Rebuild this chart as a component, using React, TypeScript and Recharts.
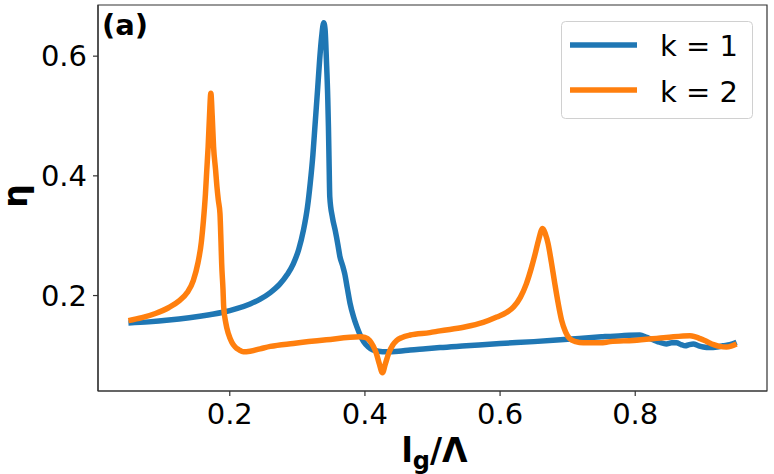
import React from "react";
import {
  LineChart,
  Line,
  XAxis,
  YAxis,
  Legend,
  Label,
  ReferenceArea,
} from "recharts";

// k = 1 curve
const K1_X = [
  0.05, 0.08, 0.11, 0.14, 0.17, 0.19, 0.21, 0.23, 0.245, 0.26, 0.274, 0.285,
  0.294, 0.302, 0.309, 0.315, 0.319, 0.323, 0.326, 0.33, 0.333, 0.336, 0.339,
  0.341, 0.343, 0.345, 0.346, 0.347, 0.348, 0.352, 0.356, 0.36, 0.363, 0.367,
  0.37, 0.374, 0.378, 0.383, 0.388, 0.393, 0.398, 0.405, 0.412, 0.42, 0.432,
  0.45, 0.467, 0.49, 0.511, 0.55, 0.6, 0.65, 0.7, 0.75, 0.78, 0.807, 0.817,
  0.827, 0.836, 0.846, 0.854, 0.861, 0.868, 0.874, 0.88, 0.886, 0.894, 0.901,
  0.91, 0.921, 0.93, 0.94, 0.95,
];
const K1_Y = [
  0.154, 0.156, 0.159, 0.163, 0.168, 0.172, 0.178, 0.186, 0.194, 0.205, 0.219,
  0.235, 0.253, 0.277, 0.309, 0.348, 0.387, 0.435, 0.482, 0.545, 0.594, 0.633,
  0.656, 0.645, 0.594, 0.53, 0.482, 0.42, 0.365, 0.33, 0.309, 0.285, 0.265,
  0.25, 0.237, 0.212, 0.187, 0.165, 0.148, 0.134, 0.123, 0.114, 0.109, 0.107,
  0.106, 0.107, 0.109, 0.111, 0.113, 0.116, 0.12, 0.123, 0.127, 0.131, 0.133,
  0.134, 0.13, 0.126, 0.122, 0.119, 0.121, 0.121, 0.118, 0.116, 0.118, 0.119,
  0.116, 0.114, 0.113, 0.114, 0.116, 0.118, 0.122,
];

// k = 2 curve
const K2_X = [
  0.05, 0.07, 0.09, 0.11, 0.125, 0.137, 0.146, 0.153, 0.158, 0.161, 0.164,
  0.166, 0.168, 0.17, 0.172, 0.174, 0.176, 0.179, 0.181, 0.183, 0.1855, 0.187,
  0.188, 0.19, 0.191, 0.194, 0.198, 0.203, 0.208, 0.214, 0.22, 0.23, 0.245,
  0.26, 0.294, 0.343, 0.393, 0.4, 0.407, 0.412, 0.417, 0.421, 0.426, 0.43,
  0.435, 0.441, 0.447, 0.455, 0.467, 0.496, 0.511, 0.546, 0.575, 0.595, 0.61,
  0.62, 0.63, 0.639, 0.646, 0.652, 0.657, 0.663, 0.667, 0.671, 0.676, 0.681,
  0.686, 0.691, 0.697, 0.703, 0.712, 0.723, 0.748, 0.763, 0.797, 0.846, 0.881,
  0.889, 0.896, 0.906, 0.916, 0.925, 0.935, 0.943, 0.95,
];
const K2_Y = [
  0.158, 0.163, 0.17, 0.18, 0.191, 0.205, 0.225, 0.255, 0.29, 0.325, 0.37,
  0.41, 0.449, 0.5, 0.538, 0.5, 0.449, 0.41, 0.382, 0.36, 0.337, 0.29, 0.254,
  0.21, 0.181, 0.155, 0.136, 0.122, 0.114, 0.109, 0.106, 0.107, 0.111, 0.115,
  0.12, 0.126, 0.131, 0.13, 0.125, 0.116, 0.103, 0.087, 0.071, 0.085, 0.103,
  0.117, 0.125, 0.13, 0.134, 0.138, 0.141, 0.147, 0.155, 0.164, 0.172, 0.181,
  0.197, 0.22, 0.245, 0.27, 0.293, 0.312, 0.303, 0.287, 0.255, 0.22, 0.187,
  0.159, 0.139, 0.128, 0.123, 0.121, 0.121, 0.123, 0.125, 0.13, 0.133, 0.131,
  0.128, 0.123, 0.118, 0.115, 0.114, 0.116, 0.119,
];

const SERIES_NAMES = ["k = 1", "k = 2"];
const SERIES_COLORS = ["#1f77b4", "#ff7f0e"];
const X_TICKS = [0.2, 0.4, 0.6, 0.8];
const Y_TICKS = [0.2, 0.4, 0.6];
const X_DOMAIN = [0.005, 0.995];
const Y_DOMAIN = [0.0405, 0.6855];

const k1Data = K1_X.map((x, i) => ({ x, y: K1_Y[i] }));
const k2Data = K2_X.map((x, i) => ({ x, y: K2_Y[i] }));

const FONT = "DejaVu Sans";
const AXIS_COLOR = "#333";

function XTitle({ viewBox }: any) {
  const { x, y, width } = viewBox;
  return (
    <text
      x={x + width / 2 + 2}
      y={y + 71}
      textAnchor="middle"
      fontFamily={FONT}
      fontWeight="bold"
      fontSize={33}
      fill="#000"
    >
      l
      <tspan fontSize={24} dy={7}>
        g
      </tspan>
      <tspan dy={-7}>/Λ</tspan>
    </text>
  );
}

function YTitle({ viewBox }: any) {
  const { y, height } = viewBox;
  const cx = 27;
  const cy = y + height / 2 - 2;
  return (
    <text
      x={cx}
      y={cy}
      transform={`rotate(-90, ${cx}, ${cy})`}
      textAnchor="middle"
      fontFamily={FONT}
      fontWeight="bold"
      fontSize={33}
      fill="#000"
    >
      η
    </text>
  );
}

function PanelTag({ viewBox }: any) {
  return (
    <text
      x={viewBox.x + 4}
      y={viewBox.y + 30}
      fontFamily={FONT}
      fontWeight="bold"
      fontSize={29}
      fill="#000"
    >
      (a)
    </text>
  );
}

function LegendBox() {
  return (
    <svg width={192} height={98} style={{ display: "block" }}>
      <rect
        x={0.5}
        y={0.5}
        width={191}
        height={97}
        rx={4}
        fill="rgba(255,255,255,0.8)"
        stroke="#d0d0d0"
      />
      {SERIES_NAMES.map((name, i) => (
        <g key={name}>
          <line
            x1={9}
            x2={76}
            y1={24 + i * 45}
            y2={24 + i * 45}
            stroke={SERIES_COLORS[i]}
            strokeWidth={5.5}
          />
          <text
            x={99}
            y={35 + i * 46}
            fontFamily={FONT}
            fontSize={29}
            fill="#000"
          >
            {name}
          </text>
        </g>
      ))}
    </svg>
  );
}

export default function App() {
  return (
    <div
      style={{
        position: "absolute",
        left: 0,
        top: 0,
        width: 774,
        height: 474,
        background: "#fff",
      }}
    >
      <LineChart
        width={774}
        height={474}
        margin={{ top: 5, right: 7, left: 0, bottom: 0 }}
      >
        <XAxis
          dataKey="x"
          type="number"
          domain={X_DOMAIN}
          ticks={X_TICKS}
          tickFormatter={(v) => v.toFixed(1)}
          allowDataOverflow
          height={83}
          tickSize={5}
          tickMargin={7}
          stroke={AXIS_COLOR}
          strokeWidth={1.2}
          tick={{ fill: "#000", fontSize: 29, fontFamily: FONT }}
        >
          <Label content={XTitle} />
        </XAxis>
        <YAxis
          type="number"
          domain={Y_DOMAIN}
          ticks={Y_TICKS}
          tickFormatter={(v) => v.toFixed(1)}
          allowDataOverflow
          width={98}
          tickSize={5}
          tickMargin={6}
          stroke={AXIS_COLOR}
          strokeWidth={1.2}
          tick={{ fill: "#000", fontSize: 29, fontFamily: FONT }}
        >
          <Label content={YTitle} />
        </YAxis>
        <ReferenceArea
          x1={X_DOMAIN[0]}
          x2={X_DOMAIN[1]}
          y1={Y_DOMAIN[0]}
          y2={Y_DOMAIN[1]}
          fill="none"
          fillOpacity={0}
          stroke={AXIS_COLOR}
          strokeWidth={1.2}
          ifOverflow="visible"
        >
          <Label content={PanelTag} />
        </ReferenceArea>
        <Legend
          layout="horizontal"
          align="center"
          verticalAlign="middle"
          content={() => <LegendBox />}
          wrapperStyle={{ left: 561, top: 21, width: 192, height: 98 }}
        />
        <Line
          data={k1Data}
          dataKey="y"
          name={SERIES_NAMES[0]}
          type="monotone"
          stroke={SERIES_COLORS[0]}
          strokeWidth={5.5}
          dot={false}
          isAnimationActive={false}
        />
        <Line
          data={k2Data}
          dataKey="y"
          name={SERIES_NAMES[1]}
          type="monotone"
          stroke={SERIES_COLORS[1]}
          strokeWidth={5.5}
          dot={false}
          isAnimationActive={false}
        />
      </LineChart>
    </div>
  );
}
